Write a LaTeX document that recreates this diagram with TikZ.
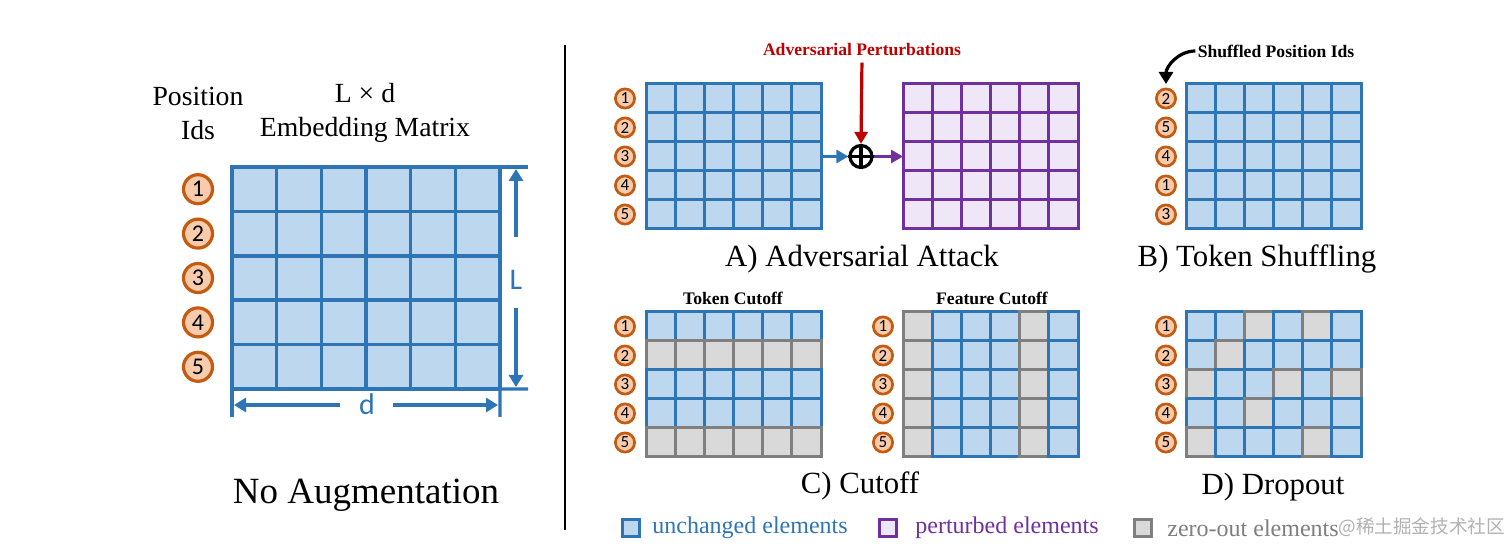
\documentclass[tikz,border=0pt]{standalone}
\usepackage{fontspec}
\setmainfont{Liberation Serif}
\newfontfamily\calib{Carlito}
\newfontfamily\cjk{Noto Sans CJK SC}
\usetikzlibrary{arrows.meta}
\definecolor{bL}{HTML}{2E75B6}
\definecolor{bF}{HTML}{BDD7EE}
\definecolor{gL}{HTML}{7F7F7F}
\definecolor{gF}{HTML}{D9D9D9}
\definecolor{pL}{HTML}{7030A0}
\definecolor{pF}{HTML}{EFE6F7}
\definecolor{oL}{HTML}{C55A11}
\definecolor{oF}{HTML}{F8CBAD}
\definecolor{advred}{HTML}{C00000}
\newcommand\drawgrid[6]{%
  \foreach \rowpat [count=\r] in {#6} {%
    \foreach \cc [count=\k] in \rowpat {%
      \draw[cell=\cc] ({#2+(\k-1)*#4},{#3+(\r-1)*#5}) rectangle ++(#4,#5);%
    }%
  }%
  \node[mat, minimum width={#4*3pt}, minimum height={#5*2.5pt}] (#1) at (#2,#3) {};%
}
\begin{document}
\begin{tikzpicture}[x=0.5pt, y=-0.5pt,
  gridlw/.style={line width=1.5pt},
  cell/.style={draw=#1L, fill=#1F, gridlw},
  mat/.style={inner sep=0pt, outer sep=0pt, anchor=north west},
  idc/.style={circle, draw=oL, fill=oF, line width=1.35pt, minimum size=9.6pt, inner sep=0pt, font=\calib\fontsize{8.5}{8.5}\selectfont},
  idcbig/.style={idc, line width=1.6pt, minimum size=14.5pt, font=\calib\fontsize{12}{12}\selectfont},
  title/.style={font=\fontsize{15.4}{18}\selectfont, inner sep=0pt},
  boldlbl/.style={font=\bfseries\fontsize{8.8}{10}\selectfont, inner sep=1pt},
  dimarrow/.style={draw=bL, line width=1.6pt, -{Triangle[length=6pt,width=7pt]}},
  dimline/.style={draw=bL, line width=1.6pt},
  smallarrow/.style={line width=1.6pt, -{Triangle[length=6pt,width=6.5pt]}},
  legbox/.style={line width=1.4pt, minimum size=8.2pt, inner sep=0pt},
  legtxt/.style={anchor=west, inner sep=0pt, font=\fontsize{12}{14}\selectfont}
]
\useasboundingbox[fill=white] (0,0) rectangle (1512,555);

% ---------- Left panel: No Augmentation ----------
\node[align=center, font=\fontsize{13.85}{17}\selectfont] (posids) at (198,113) {Position\\Ids};
\node[align=center, font=\fontsize{13.85}{17}\selectfont] (embtitle) at (365,113) {L × d\\Embedding Matrix};
\begin{scope}[gridlw/.style={line width=1.75pt}]
\drawgrid{m0}{232}{167}{44.667}{44.4}{{b,b,b,b,b,b},{b,b,b,b,b,b},{b,b,b,b,b,b},{b,b,b,b,b,b},{b,b,b,b,b,b}}
\end{scope}
\foreach \n [count=\r] in {1,2,3,4,5}
  \node[idcbig] (n\r) at (198,{189.2+(\r-1)*44.4}) {\n};
\coordinate (tre) at (528,167);
\coordinate (bre) at (528,389);
\coordinate (blt) at (232,417);
\coordinate (brt) at (500,417);
\draw[dimline] (m0.north east) -- (tre);
\draw[dimline] (m0.south east) -- (bre);
\draw[dimline] (m0.south west) -- (blt);
\draw[dimline] (m0.south east) -- (brt);
\node[font=\calib\fontsize{15}{15}\selectfont, text=bL, inner sep=0pt] (Llbl) at (516,280) {L};
\coordinate (Lu1) at (516,237); \coordinate (Lu2) at (516,169);
\coordinate (Ld1) at (516,308); \coordinate (Ld2) at (516,387);
\draw[dimarrow] (Lu1) -- (Lu2);
\draw[dimarrow] (Ld1) -- (Ld2);
\node[font=\calib\fontsize{15}{15}\selectfont, text=bL, inner sep=0pt] (dlbl) at (367,404) {d};
\coordinate (dl1) at (340,405); \coordinate (dl2) at (234,405);
\coordinate (dr1) at (393,405); \coordinate (dr2) at (498,405);
\draw[dimarrow] (dl1) -- (dl2);
\draw[dimarrow] (dr1) -- (dr2);
\node[font=\fontsize{18.5}{20}\selectfont, inner sep=0pt] (noaug) at (366,495) {No Augmentation};

% ---------- divider ----------
\coordinate (divt) at (565,45);
\coordinate (divb) at (565,530);
\draw[line width=1.1pt] (divt) -- (divb);

% ---------- A) Adversarial Attack ----------
\drawgrid{mA}{646}{84}{29.167}{29}{{b,b,b,b,b,b},{b,b,b,b,b,b},{b,b,b,b,b,b},{b,b,b,b,b,b},{b,b,b,b,b,b}}
\drawgrid{mP}{903}{84}{29.167}{29}{{p,p,p,p,p,p},{p,p,p,p,p,p},{p,p,p,p,p,p},{p,p,p,p,p,p},{p,p,p,p,p,p}}
\foreach \n [count=\r] in {1,2,3,4,5}
  \node[idc] (a\r) at (625,{98.5+(\r-1)*29}) {\n};
\node[circle, draw=black, line width=1.6pt, minimum size=11pt, inner sep=0pt] (op) at (861,156.5) {};
\draw[line width=1.6pt] (op.north) -- (op.south) (op.west) -- (op.east);
\draw[smallarrow, draw=bL, fill=bL] (mA.east) -- (op.west);
\draw[smallarrow, draw=pL, fill=pL] (op.east) -- (mP.west);
\node[boldlbl, text=advred] (ap) at (862,50) {Adversarial Perturbations};
\draw[smallarrow, draw=advred, fill=advred, shorten <=2pt] (ap.south) -- (op.north);
\node[title] (tA) at (862,259) {A) Adversarial Attack};

% ---------- B) Token Shuffling ----------
\drawgrid{mB}{1186}{84}{29.17}{29}{{b,b,b,b,b,b},{b,b,b,b,b,b},{b,b,b,b,b,b},{b,b,b,b,b,b},{b,b,b,b,b,b}}
\foreach \n [count=\r] in {2,5,4,1,3}
  \node[idc] (b\r) at (1166,{98.5+(\r-1)*29}) {\n};
\node[boldlbl] (sp) at (1276,51) {Shuffled Position Ids};
\coordinate (spEnd) at (1166,84);
\draw[line width=1.6pt, -{Triangle[length=6pt,width=7pt]}] (sp.west) to[out=180, in=90] (spEnd);
\node[title] (tB) at (1257,259) {B) Token Shuffling};

% ---------- C) Cutoff ----------
\drawgrid{mC}{646}{312}{29.167}{29}{{b,b,b,b,b,b},{g,g,g,g,g,g},{b,b,b,b,b,b},{b,b,b,b,b,b},{g,g,g,g,g,g}}
\foreach \n [count=\r] in {1,2,3,4,5}
  \node[idc] (c\r) at (625,{326.5+(\r-1)*29}) {\n};
\node[boldlbl] (tc) at (733,298) {Token Cutoff};
\drawgrid{mF}{903}{312}{29.167}{29}{{g,b,b,b,g,b},{g,b,b,b,g,b},{g,b,b,b,g,b},{g,b,b,b,g,b},{g,b,b,b,g,b}}
\foreach \n [count=\r] in {1,2,3,4,5}
  \node[idc] (f\r) at (883,{326.5+(\r-1)*29}) {\n};
\node[boldlbl] (fc) at (992,298) {Feature Cutoff};
\node[title] (tC) at (860,486) {C) Cutoff};

% ---------- D) Dropout ----------
\drawgrid{mD}{1186}{312}{29.17}{29}{{b,b,g,b,g,b},{b,g,b,b,b,b},{g,b,b,g,b,g},{b,b,g,b,b,b},{g,b,b,b,g,b}}
\foreach \n [count=\r] in {1,2,3,4,5}
  \node[idc] (d\r) at (1166,{326.5+(\r-1)*29}) {\n};
\node[title] (tD) at (1273,487) {D) Dropout};

% ---------- legend ----------
\node[legbox, draw=bL, fill=bF] (lg1) at (631,528) {};
\node[legtxt, text=bL] (lt1) at (652,528) {unchanged elements};
\node[legbox, draw=pL, fill=pF] (lg2) at (888,528) {};
\node[legtxt, text=pL] (lt2) at (915,528) {perturbed elements};
\node[legbox, draw=gL, fill=gF] (lg3) at (1143,528) {};
\node[legtxt, text=gL] (lt3) at (1167,528) {zero-out elements};
\node[anchor=west, inner sep=0pt, text=gray!60, font=\cjk\fontsize{9.3}{10}\selectfont] (wm) at (1338,527) {@稀土掘金技术社区};
\end{tikzpicture}
\end{document}
